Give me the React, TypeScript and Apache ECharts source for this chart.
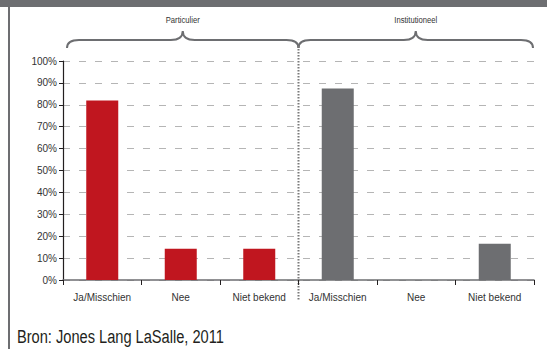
import React, { useEffect, useRef } from "react";
import * as echarts from "echarts";

const categories = ["Ja/Misschien", "Nee", "Niet bekend", "Ja/Misschien", "Nee", "Niet bekend"];
const particulier = [82, 14.3, 14.3, "-", "-", "-"];
const institutioneel = ["-", "-", "-", 87.5, 0, 16.5];
const groupLabels = ["Particulier", "Institutioneel"];
const yTicks = [0, 100, 10];
const source = "Bron: Jones Lang LaSalle, 2011";

const RED = "#c0161f";
const GREY = "#6d6e71";
const NARROW = "'Liberation Sans Narrow', 'Arial Narrow', 'Liberation Sans', sans-serif";

export default function App() {
  const ref = useRef<HTMLDivElement>(null);
  useEffect(() => {
    if (!ref.current) return;
    const chart = echarts.init(ref.current, undefined, { renderer: "svg" });
    chart.setOption({
      animation: false,
      backgroundColor: "#ffffff",
      grid: { left: 63, right: 13, top: 61, bottom: 69 },
      xAxis: {
        type: "category",
        data: categories,
        axisLine: { lineStyle: { color: "#6d6e71", width: 1.5 } },
        axisTick: { show: true, length: 5, lineStyle: { color: "#231f20" } },
        axisLabel: { color: "#333", fontSize: 10, fontFamily: NARROW, margin: 12 },
      },
      yAxis: {
        type: "value",
        min: yTicks[0],
        max: yTicks[1],
        interval: yTicks[2],
        axisLine: { show: true, lineStyle: { color: "#231f20", width: 1.2 } },
        axisTick: { show: true, length: 4, lineStyle: { color: "#231f20" } },
        axisLabel: { color: "#333", fontSize: 10, fontFamily: NARROW, margin: 6, formatter: "{value}%" },
        splitLine: { show: true, lineStyle: { color: "#b5b5b5", type: [7, 9], width: 1 } },
      },
      series: [
        { type: "bar", name: groupLabels[0], data: particulier, stack: "t", barWidth: 32, itemStyle: { color: RED } },
        { type: "bar", name: groupLabels[1], data: institutioneel, stack: "t", barWidth: 32, itemStyle: { color: GREY } },
      ],
    });

    const cx = (i: number) => chart.convertToPixel({ xAxisIndex: 0 }, i) as number;
    const step = cx(1) - cx(0);
    const x0 = cx(0) - step / 2 + 4;
    const xMid = (cx(2) + cx(3)) / 2;
    const x1 = cx(5) + step / 2 - 1;
    const yEnd = 48, yLine = 40, yPeak = 31;
    const braceD = (a: number, b: number) => {
      const m = (a + b) / 2;
      return `M${a},${yEnd} Q${a},${yLine} ${a + 12},${yLine} L${m - 12},${yLine} Q${m},${yLine} ${m},${yPeak} Q${m},${yLine} ${m + 12},${yLine} L${b - 12},${yLine} Q${b},${yLine} ${b},${yEnd}`;
    };
    echarts.graphic.registerShape("braceL", echarts.graphic.extendPath(braceD(x0, xMid), {}) as any);
    echarts.graphic.registerShape("braceR", echarts.graphic.extendPath(braceD(xMid, x1), {}) as any);
    const stroke = { fill: "none", stroke: GREY, lineWidth: 2 };
    chart.setOption({
      graphic: [
        { type: "rect", shape: { x: 0, y: 0, width: 547, height: 7 }, style: { fill: GREY }, silent: true },
        { type: "rect", shape: { x: 8, y: 0, width: 2, height: 349 }, style: { fill: GREY }, silent: true },
        { type: "braceL", x: 0, y: 0, style: stroke },
        { type: "braceR", x: 0, y: 0, style: stroke },
        {
          type: "line",
          shape: { x1: xMid, y1: 46, x2: xMid, y2: 301 },
          style: { stroke: "#7a7a7a", lineWidth: 2, lineDash: [1.5, 1.5] },
        },
        {
          type: "text", x: (x0 + xMid) / 2, y: 20, scaleX: 0.85,
          style: { text: groupLabels[0], fill: "#333", font: `9px ${NARROW}`, align: "center", verticalAlign: "middle" },
        },
        {
          type: "text", x: (xMid + x1) / 2, y: 20, scaleX: 0.85,
          style: { text: groupLabels[1], fill: "#333", font: `9px ${NARROW}`, align: "center", verticalAlign: "middle" },
        },
        {
          type: "text", x: 17, y: 337, scaleX: 0.77,
          style: { text: source, fill: "#231f20", font: `19px ${NARROW}`, align: "left", verticalAlign: "middle" },
        },
      ],
    });
    return () => chart.dispose();
  }, []);
  return (
    <div style={{ position: "fixed", left: 0, top: 0, width: 547, height: 349, background: "#fff" }}>
      <div ref={ref} style={{ width: 547, height: 349 }} />
    </div>
  );
}
